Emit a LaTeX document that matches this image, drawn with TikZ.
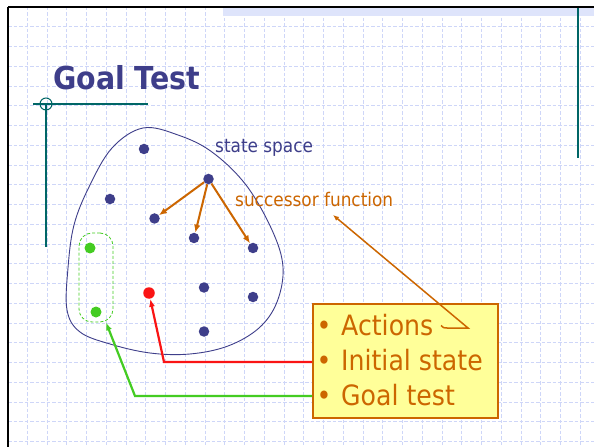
\documentclass[tikz,border=0pt]{standalone}
\usepackage{fontspec}
\setmainfont[FakeStretch=0.9]{DejaVu Sans}
\usetikzlibrary{arrows.meta}
\definecolor{slateblue}{RGB}{62,62,138}
\definecolor{tealline}{RGB}{0,102,102}
\definecolor{burnt}{RGB}{204,102,0}
\definecolor{gridblue}{RGB}{206,214,248}
\definecolor{bandblue}{RGB}{222,228,251}
\definecolor{goalgreen}{RGB}{68,204,34}
\definecolor{initred}{RGB}{250,20,20}
\definecolor{notepad}{RGB}{255,255,153}

\begin{document}
\begin{tikzpicture}[x=1bp,y=-1bp,
  state/.style={circle,fill=slateblue,inner sep=0,minimum size=10.5bp},
  goalstate/.style={circle,fill=goalgreen,inner sep=0,minimum size=11bp},
  startstate/.style={circle,fill=initred,inner sep=0,minimum size=11.5bp},
  gridline/.style={gridblue,line width=0.9bp,dash pattern=on 3.5bp off 2bp},
  label/.style={anchor=base west,inner sep=0,font=\fontsize{18.8bp}{22bp}\selectfont},
  bulletline/.style={anchor=base west,inner sep=0,text=burnt,font=\fontsize{28bp}{32bp}\selectfont},
  succarrow/.style={burnt,line width=2bp,-{Latex[length=8bp,width=6.5bp]}},
  link/.style={line width=2.2bp,-{Latex[length=8bp,width=6bp]}},
]
\useasboundingbox (0,0) rectangle (594,447);
\fill[white] (0,0) rectangle (594,447);

% background grid of the slide
\foreach \k in {0,...,30} {
  \pgfmathsetmacro\gx{7.5+19.75*\k}
  \ifdim\gx pt<594pt \draw[gridline] (\gx,7) -- (\gx,447); \fi
}
\foreach \k in {0,...,22} {
  \pgfmathsetmacro\gy{7+19.75*\k}
  \ifdim\gy pt<447pt \draw[gridline] (8,\gy) -- (594,\gy); \fi
}

% top band and frame
\fill[bandblue] (223,8.5) rectangle (594,16);
\draw[black,line width=2.5bp] (8,7) -- (594,7);
\draw[black,line width=2.8bp] (8,7) -- (8,447);

% teal ornaments
\draw[tealline,line width=1.3bp] (578,8) -- (578,158);
\draw[tealline,line width=1.3bp] (33,104) -- (148,104);
\draw[tealline,line width=1.3bp] (46,104) -- (46,247);
\draw[tealline,line width=1bp] (46,104) circle (6);

% title
\node[anchor=base west,inner sep=0,text=slateblue,font=\fontsize{31.6bp}{36bp}\selectfont\bfseries]
  (title) at (53,90) {Goal Test};

% state space outline
\draw[slateblue,line width=0.9bp] plot[smooth cycle,tension=0.6] coordinates {
  (143,128) (178,135) (212,152) (246,185) (272,230) (283,267) (277,302)
  (259,328) (228,346) (190,354) (150,353) (110,344) (80,332) (67,310)
  (68,268) (74,225) (89,187) (112,148)};

% goal set
\node[draw=goalgreen,line width=0.8bp,dash pattern=on 3bp off 2bp,rounded corners=13bp,
  minimum width=34bp,minimum height=89bp,inner sep=0] (gset) at (96,277.5) {};

% states
\node[state] (s1) at (144,149) {};
\node[state] (s2) at (110,199) {};
\node[state] (s3) at (208.5,179) {};
\node[state] (s4) at (154.5,218.5) {};
\node[state] (s5) at (194,238) {};
\node[state] (s6) at (253,248) {};
\node[state] (s7) at (204,287.5) {};
\node[state] (s8) at (253,297) {};
\node[state] (s9) at (204,331.5) {};
\node[startstate] (init) at (149,293) {};
\node[goalstate] (g1) at (90,248) {};
\node[goalstate] (g2) at (96,312) {};

% successor arrows
\draw[succarrow] (s3) -- (s4);
\draw[succarrow] (s3) -- (s5);
\draw[succarrow] (s3) -- (s6);

% labels
\node[label,text=slateblue] (sslabel) at (215,153) {state space};
\node[label,text=burnt] (sflabel) at (235,207) {successor function};

% note box
\node[draw=burnt,fill=notepad,line width=2.4bp,anchor=north west,inner sep=0,
  minimum width=185bp,minimum height=114bp] (box) at (312,303) {};
\node[bulletline] (l1) at (316.5,335) {\makebox[24.5bp][l]{•}Actions};
\node[bulletline] (l2) at (316.5,370) {\makebox[24.5bp][l]{•}Initial state};
\node[bulletline] (l3) at (316.5,405) {\makebox[24.5bp][l]{•}Goal test};

% connectors from the note to the picture
\coordinate (stip) at (333,215);
\coordinate (hk) at (468,328);
\coordinate (hkend) at (447,328);
\draw[burnt,line width=1.5bp,-{Latex[length=6bp,width=5bp]}]
  (441,325.5) .. controls (443,328) and (444,328) .. (hkend) -- (hk) -- (stip);

\coordinate (rbend) at (164,362);
\draw[initred,link] (box.west |- rbend) -- (rbend) -- (init);

\coordinate (gbend) at (135,396);
\draw[goalgreen,link] (box.west |- gbend) -- (gbend) -- ([xshift=10bp]gset.south);
\end{tikzpicture}
\end{document}
